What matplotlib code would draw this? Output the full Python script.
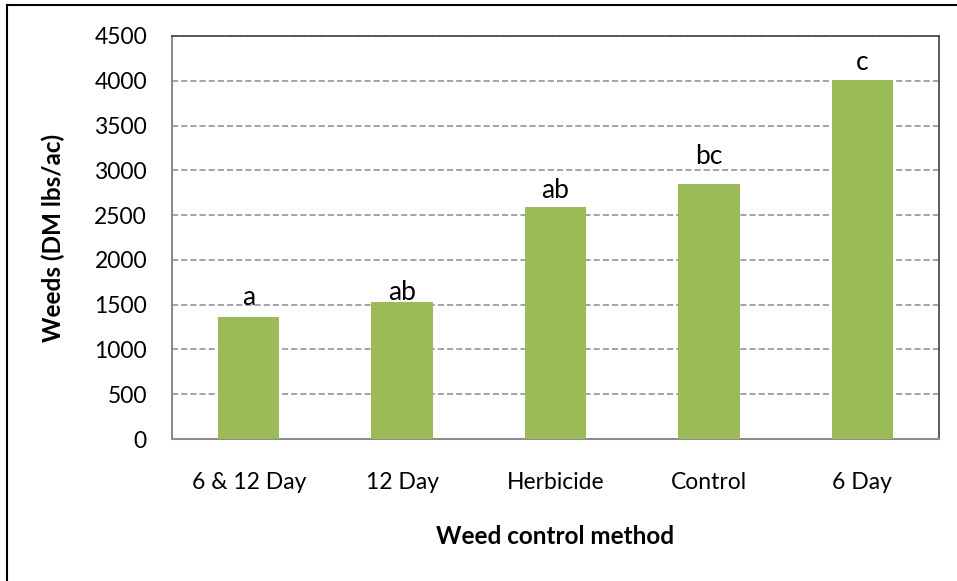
import matplotlib.pyplot as plt
from matplotlib.lines import Line2D

methods = ['6 & 12 Day', '12 Day', 'Herbicide', 'Control', '6 Day']
weeds = [1362, 1529, 2589, 2846, 4007]
letters = ['a', 'ab', 'ab', 'bc', 'c']
yticks = [0, 500, 1000, 1500, 2000, 2500, 3000, 3500, 4000, 4500]

plt.rcParams['font.family'] = ['Lato', 'DejaVu Sans']

fig = plt.figure(figsize=(9.57, 5.81), dpi=100)
ax = fig.add_axes([172 / 957, 1 - 439 / 581, 767 / 957, 403 / 581])

x = range(len(methods))
ax.bar(x, weeds, width=0.4, color='#9BBB59', zorder=3)

# letters sit at slightly different gaps above the bars (in points)
gaps = [5, -2, 3, 11, 4]
for i, (v, t) in enumerate(zip(weeds, letters)):
    ax.annotate(t, (i, v), xytext=(0, gaps[i]), textcoords='offset points',
                ha='center', va='bottom', fontsize=19, zorder=4)

ax.set_xlim(-0.5, len(methods) - 0.5)
ax.set_ylim(0, 4500)
ax.set_yticks(yticks)
ax.set_xticks(list(x))
ax.set_xticklabels(methods)
ax.tick_params(axis='both', length=0, labelsize=16.5)
ax.tick_params(axis='x', pad=24)
ax.tick_params(axis='y', pad=18)

ax.yaxis.grid(True, linestyle=(0, (4, 2)), color='#8c8c8c', linewidth=1.1, zorder=0)
ax.spines['left'].set_color('#8c8c8c')
ax.spines['bottom'].set_color('#8c8c8c')
ax.spines['left'].set_linewidth(1.5)
ax.spines['bottom'].set_linewidth(1.5)
ax.spines['right'].set_color('#404040')
ax.spines['right'].set_linewidth(1.2)
ax.spines['top'].set_color('#404040')
ax.spines['top'].set_linestyle((0, (4, 1)))
ax.spines['top'].set_linewidth(1.2)

ax.set_xlabel('Weed control method', fontsize=17.5, fontweight='bold', labelpad=23)
ax.set_ylabel('Weeds (DM lbs/ac)', fontsize=17.5, fontweight='bold', labelpad=21)

# outer chart frame (cropped on the right and bottom)
fig.add_artist(Line2D([7 / 957, 7 / 957], [0, 1 - 5 / 581], color='black', linewidth=1.5, transform=fig.transFigure))
fig.add_artist(Line2D([7 / 957, 1], [1 - 5 / 581, 1 - 5 / 581], color='black', linewidth=1.5, transform=fig.transFigure))

fig.savefig('out.png', dpi=100)
